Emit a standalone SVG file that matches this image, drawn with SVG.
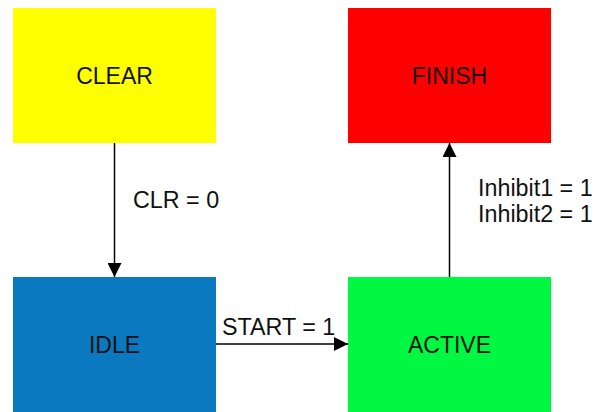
<svg xmlns="http://www.w3.org/2000/svg" width="595" height="412" viewBox="0 0 595 412">
<style>
.node-text{font-family:"Liberation Sans",Arial,sans-serif;font-size:23px;fill:#111;text-anchor:middle}
.label{font-family:"Liberation Sans",Arial,sans-serif;font-size:23.3px;fill:#111}
.conn{stroke:#000;stroke-width:1.5;fill:none}
</style>
<defs>
<marker id="arrow" viewBox="0 0 14 14" refX="14" refY="7" markerWidth="14" markerHeight="14" markerUnits="userSpaceOnUse" orient="auto">
<path d="M0,0 L14,7 L0,14 Z" fill="#000"/>
</marker>
</defs>
<rect width="595" height="412" fill="#fff"/>
<g id="clear">
<rect x="13" y="8" width="203" height="135" fill="#FFFF00"/>
<text class="node-text" x="114.5" y="84">CLEAR</text>
</g>
<g id="finish">
<rect x="348" y="8" width="203" height="135" fill="#FF0000"/>
<text class="node-text" x="449.5" y="84">FINISH</text>
</g>
<g id="idle">
<rect x="13" y="277" width="203" height="140" fill="#0A79C0"/>
<text class="node-text" x="114.5" y="353">IDLE</text>
</g>
<g id="active">
<rect x="348" y="277" width="203" height="140" fill="#00F843"/>
<text class="node-text" x="449.5" y="353">ACTIVE</text>
</g>
<g id="connectors">
<line class="conn" x1="114.5" y1="143" x2="114.5" y2="277" marker-end="url(#arrow)"/>
<line class="conn" x1="216" y1="344" x2="348" y2="344" marker-end="url(#arrow)"/>
<line class="conn" x1="449.5" y1="277" x2="449.5" y2="143" marker-end="url(#arrow)"/>
<text class="label" x="133" y="208">CLR = 0</text>
<text class="label" x="222" y="335">START = 1</text>
<text class="label" x="478" y="196">Inhibit1 = 1</text>
<text class="label" x="478" y="222">Inhibit2 = 1</text>
</g>
</svg>
